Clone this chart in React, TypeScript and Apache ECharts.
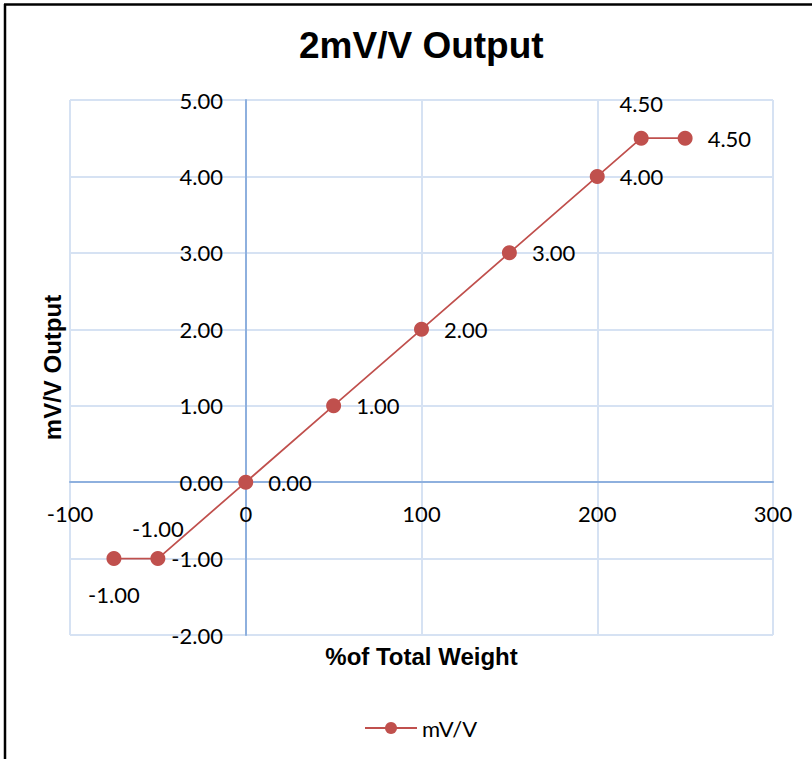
import React, { useEffect, useRef } from "react";
import * as echarts from "echarts";

const xValues = [-75, -50, 0, 50, 100, 150, 200, 225, 250];
const yValues = [-1, -1, 0, 1, 2, 3, 4, 4.5, 4.5];
const seriesName = "mV/V";
const titleText = "2mV/V Output";
const xName = "%of Total Weight";
const yName = "mV/V Output";

const labelFont = "Lato";
const boldFont = "Liberation Sans";
const axisBlue = "#8eb0de";
const gridBlue = "#d6e2f3";

export default function App() {
  const ref = useRef<HTMLDivElement>(null);
  useEffect(() => {
    if (!ref.current) return;
    const chart = echarts.init(ref.current, null, { renderer: "svg" });
    const data = xValues.map((x, i) => {
      const item: any = { value: [x, yValues[i]] };
      if (i === 0) item.label = { position: "bottom", distance: 17 };
      if (i === 1) item.label = { position: "top", distance: 12 };
      if (i === 7) item.label = { position: "top", distance: 16 };
      return item;
    });
    chart.setOption({
      animation: false,
      backgroundColor: "#fff",
      title: {
        text: titleText,
        left: 294,
        top: 22,
        textStyle: { fontFamily: boldFont, fontWeight: "bold", fontSize: 37, color: "#000" },
      },
      grid: { left: 70, right: 39, top: 100, bottom: 124, containLabel: false, outerBoundsMode: "none" },
      legend: {
        top: 712,
        left: 359,
        itemWidth: 52,
        itemHeight: 15,
        itemGap: 6,
        textStyle: { fontFamily: labelFont, fontSize: 22, color: "#000" },
        data: [seriesName],
      },
      xAxis: {
        type: "value",
        min: -100,
        max: 300,
        interval: 100,
        offset: -153,
        name: xName,
        nameLocation: "middle",
        nameGap: 162,
        nameTextStyle: { fontFamily: boldFont, fontWeight: "bold", fontSize: 24, color: "#000" },
        axisLine: { show: true, onZero: false, lineStyle: { color: axisBlue, width: 2 } },
        axisTick: { show: false },
        axisLabel: { fontFamily: labelFont, fontSize: 22, color: "#000", margin: 20 },
        splitLine: { show: true, lineStyle: { color: gridBlue, width: 2 } },
      },
      yAxis: {
        type: "value",
        min: -2,
        max: 5,
        interval: 1,
        offset: -176,
        name: yName,
        nameLocation: "middle",
        nameGap: 182,
        nameRotate: 90,
        nameTextStyle: { fontFamily: boldFont, fontWeight: "bold", fontSize: 24, color: "#000" },
        axisLine: { show: true, onZero: false, lineStyle: { color: axisBlue, width: 2 } },
        axisTick: { show: false },
        axisLabel: { fontFamily: labelFont, fontSize: 22, color: "#000", margin: 23, formatter: (v: number) => v.toFixed(2) },
        splitLine: { show: true, lineStyle: { color: gridBlue, width: 2 } },
      },
      series: [
        {
          name: seriesName,
          type: "line",
          data,
          symbol: "circle",
          symbolSize: 15,
          itemStyle: { color: "#c0504d" },
          lineStyle: { color: "#c0504d", width: 1.75 },
          label: {
            show: true,
            position: "right",
            distance: 15,
            fontFamily: labelFont,
            fontSize: 22,
            color: "#000",
            formatter: (p: any) => Number(p.value[1]).toFixed(2),
          },
          z: 3,
        },
      ],
      graphic: [
        { type: "line", shape: { x1: 4, y1: 4.5, x2: 812, y2: 4.5 }, style: { stroke: "#000", lineWidth: 2.5 } },
        { type: "line", shape: { x1: 5, y1: 4, x2: 5, y2: 759 }, style: { stroke: "#000", lineWidth: 2.5 } },
      ],
    });
    return () => chart.dispose();
  }, []);
  return <div ref={ref} style={{ position: "absolute", left: 0, top: 0, width: 812, height: 759 }} />;
}
